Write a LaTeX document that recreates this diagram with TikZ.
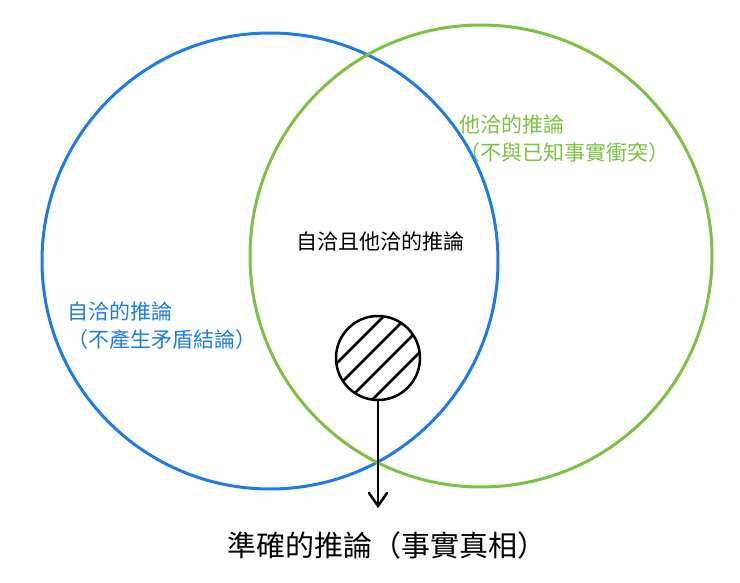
\documentclass[tikz,border=0pt]{standalone}
\usepackage{fontspec}
\newfontfamily\cjk{Noto Sans CJK TC}
\usetikzlibrary{arrows.meta}
\definecolor{bl}{HTML}{1E7BE6}
\definecolor{gr}{HTML}{7CC142}
\tikzset{lbl/.style={font=\cjk\fontsize{21}{24}\selectfont, inner sep=0pt}}
\begin{document}
\begin{tikzpicture}[x=1pt,y=-1pt]
\useasboundingbox (0,0) rectangle (740,583);
\draw[bl, line width=3pt] (270,261) circle (228);
\draw[gr, line width=3pt] (481,256) circle (231);
\node[circle, draw=black, line width=2.5pt, minimum size=84pt, inner sep=0pt] (h) at (378,358) {};
\begin{scope}
\clip (378,358) circle (42);
\foreach \d in {-60,-36,...,60} {
  \draw[line width=2.5pt] (378+\d-45,358+45) -- (378+\d+45,358-45);
}
\end{scope}
\draw[line width=2.5pt] (378,400) -- (378,505);
\draw[line width=2.5pt, line cap=round] (369,493) -- (378,506) -- (387,493);
\coordinate (end) at (378,506);
\node[lbl, gr, anchor=west] (g1) at (459,125) {他洽的推論};
\node[lbl, gr, anchor=west] (g2) at (459,153) {（不與已知事實衝突）};
\node[lbl, bl, anchor=west] (b1) at (67,312) {自洽的推論};
\node[lbl, bl, anchor=west] (b2) at (67,340) {（不產生矛盾結論）};
\node[lbl, anchor=center] (c) at (380,242) {自洽且他洽的推論};
\node[lbl, font=\cjk\fontsize{29}{32}\selectfont, anchor=center] (t) at (387,545) {準確的推論（事實真相）};
\end{tikzpicture}
\end{document}
